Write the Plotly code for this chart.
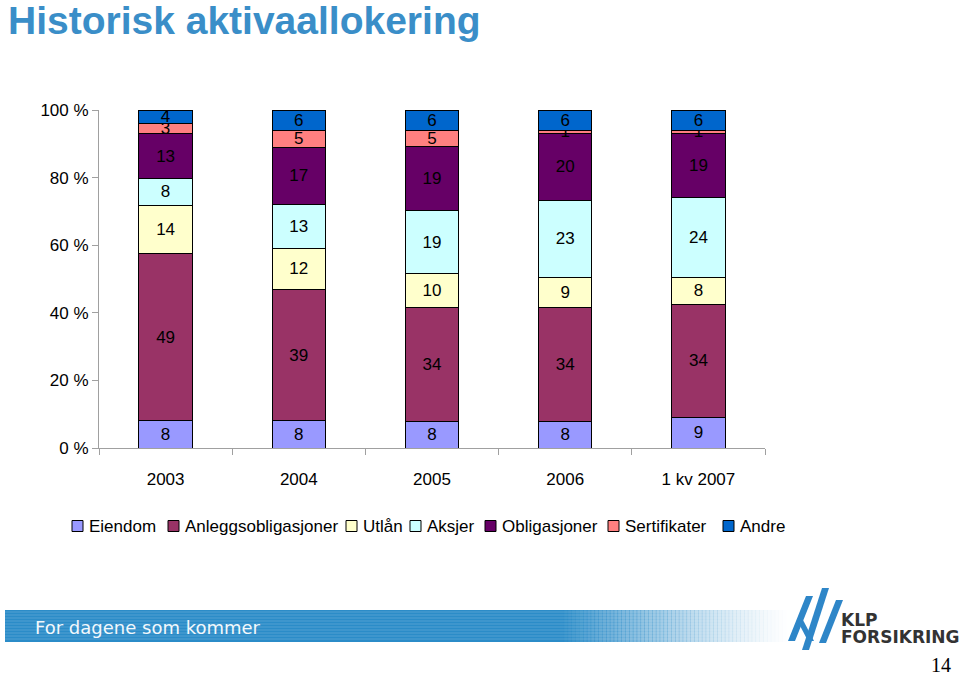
import plotly.graph_objects as go

categories = ["2003", "2004", "2005", "2006", "1 kv 2007"]
series_names = ["Eiendom", "Anleggsobligasjoner", "Utlån", "Aksjer", "Obligasjoner", "Sertifikater", "Andre"]
eiendom = [8, 8, 8, 8, 9]
anleggsobligasjoner = [49, 39, 34, 34, 34]
utlan = [14, 12, 10, 9, 8]
aksjer = [8, 13, 19, 23, 24]
obligasjoner = [13, 17, 19, 20, 19]
sertifikater = [3, 5, 5, 1, 1]
andre = [4, 6, 6, 6, 6]
series_values = [eiendom, anleggsobligasjoner, utlan, aksjer, obligasjoner, sertifikater, andre]
colors = ["#9999FF", "#993366", "#FFFFCC", "#CCFFFF", "#660066", "#FF8080", "#0066CC"]
y_ticks = [0, 20, 40, 60, 80, 100]
y_ticklabels = ["0 %", "20 %", "40 %", "60 %", "80 %", "100 %"]

W, H = 960, 675
L, R, T, B = 99, 765, 110, 448
FONT = "Arial, Liberation Sans"


def px(x):
    return (x - L) / (R - L)


def py(y):
    return (B - y) / (B - T)


fig = go.Figure()
for name, vals, col in zip(series_names, series_values, colors):
    fig.add_trace(go.Bar(
        name=name, x=categories, y=vals, text=[str(v) for v in vals],
        texttemplate="%{text}", textposition="inside", insidetextanchor="middle",
        textangle=0, constraintext="none",
        textfont=dict(family=FONT, size=17, color="black"),
        marker=dict(color=col, line=dict(color="black", width=1)),
        width=0.4, hoverinfo="skip", showlegend=False,
    ))

shapes = []
annotations = []

# manual legend (one row, as in the reference)
legend_x = [72, 168, 346, 410, 485, 608, 723]
legend_y = 526
for name, col, lx in zip(series_names, colors, legend_x):
    shapes.append(dict(type="rect", xref="paper", yref="paper", x0=px(lx), x1=px(lx + 11),
                       y0=py(legend_y + 5.5), y1=py(legend_y - 5.5), fillcolor=col,
                       line=dict(color="black", width=1)))
    annotations.append(dict(text=name, xref="paper", yref="paper", x=px(lx + 15), y=py(legend_y),
                            xanchor="left", yanchor="middle", showarrow=False,
                            font=dict(family=FONT, size=17, color="black")))

# banner: solid part + fade
x0, x1, xf = 5, 560, 790
y0, y1 = 610, 642
blue = (43, 140, 200)
shapes.append(dict(type="rect", xref="paper", yref="paper", x0=px(x0), x1=px(x1), y0=py(y1), y1=py(y0),
                   fillcolor="rgb(%d,%d,%d)" % blue, line=dict(width=0), layer="below"))
n = 60
step = (xf - x1) / n
for i in range(n):
    a = (1 - (i + 0.5) / n) ** 1.3
    shapes.append(dict(type="rect", xref="paper", yref="paper", x0=px(x1 + i * step), x1=px(x1 + (i + 1) * step + 0.6),
                       y0=py(y1), y1=py(y0), fillcolor="rgba(%d,%d,%d,%.3f)" % (blue + (a,)),
                       line=dict(width=0), layer="below"))
yy = y0 + 2
while yy < y1:
    shapes.append(dict(type="line", xref="paper", yref="paper", x0=px(x0), x1=px(xf), y0=py(yy), y1=py(yy),
                       line=dict(color="rgba(255,255,255,0.18)", width=1), layer="below"))
    yy += 3

# klp mark (stylized slanted strokes)
logo_blue = "#2E86C8"


def para(xa, ya, xb, yb, w):
    return dict(type="path", xref="paper", yref="paper",
                path="M %f,%f L %f,%f L %f,%f L %f,%f Z" % (px(xa), py(ya), px(xa + w), py(ya), px(xb + w), py(yb), px(xb), py(yb)),
                fillcolor=logo_blue, line=dict(width=0))


shapes += [
    para(806, 596, 788, 641, 7),
    para(797, 620, 808, 641, 6),
    para(822, 588, 802, 650, 7),
    para(836, 600, 819, 643, 7),
    para(815, 614, 833, 614, 3),
]

annotations += [
    dict(text="For dagene som kommer", xref="paper", yref="paper", x=px(33), y=py(627), xanchor="left", yanchor="middle",
         showarrow=False, font=dict(family="DejaVu Sans", size=18, color="#F2F8FC")),
    dict(text="<b>KLP</b>", xref="paper", yref="paper", x=px(839), y=py(620), xanchor="left", yanchor="middle",
         showarrow=False, font=dict(family="DejaVu Sans", size=17, color="#333333")),
    dict(text="<b>FORSIKRING</b>", xref="paper", yref="paper", x=px(839), y=py(637), xanchor="left", yanchor="middle",
         showarrow=False, font=dict(family="DejaVu Sans", size=17, color="#333333")),
    dict(text="14", xref="paper", yref="paper", x=px(953), y=py(665), xanchor="right", yanchor="middle",
         showarrow=False, font=dict(family="Liberation Serif", size=20, color="black")),
]

fig.update_layout(
    width=W, height=H, barmode="stack", barnorm="percent",
    margin=dict(l=L, r=W - R, t=T, b=H - B, autoexpand=False),
    paper_bgcolor="white", plot_bgcolor="white",
    title=dict(text="<b>Historisk aktivaallokering</b>", xref="container", yref="container", x=8 / W, y=1 - 20 / H,
               xanchor="left", yanchor="middle",
               font=dict(family=FONT, size=39, color="#3A8EC8")),
    uniformtext=dict(mode="show", minsize=17),
    showlegend=False,
    xaxis=dict(type="category", showline=True, linecolor="#A0A0A0", linewidth=1, ticks="outside", tickson="boundaries",
               ticklen=6, tickcolor="#A0A0A0", showgrid=False, ticklabelstandoff=16,
               tickfont=dict(family=FONT, size=17, color="black")),
    yaxis=dict(range=[0, 100], tickvals=y_ticks, ticktext=y_ticklabels, showline=True, linecolor="#A0A0A0",
               ticks="outside", ticklen=6, tickcolor="#A0A0A0", showgrid=False, zeroline=False,
               tickfont=dict(family=FONT, size=17, color="black")),
    shapes=shapes, annotations=annotations,
)
fig.write_html("out.html", config={"displayModeBar": False},
               post_script="document.body.style.margin='0';document.body.style.padding='0';")
